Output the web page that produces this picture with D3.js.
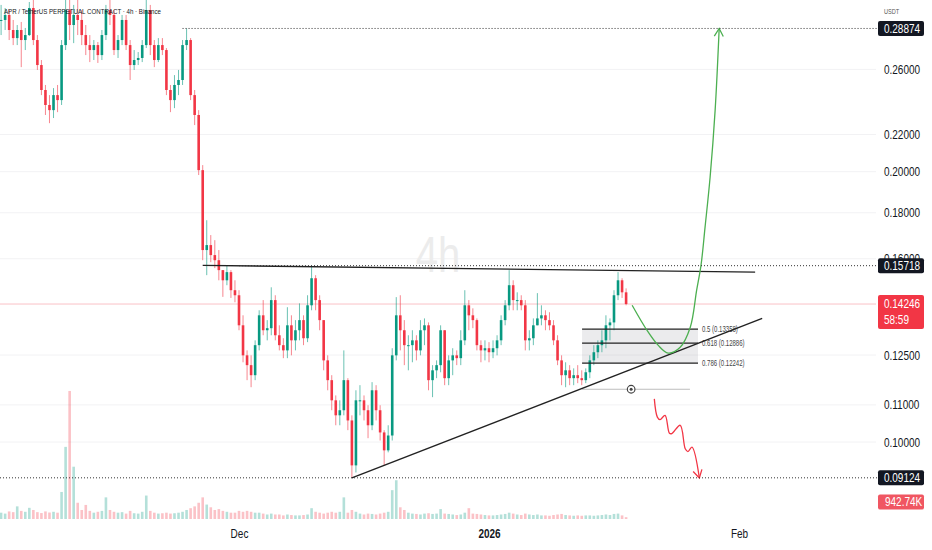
<!DOCTYPE html>
<html>
<head>
<meta charset="utf-8">
<script src="https://cdn.jsdelivr.net/npm/d3@7"></script>
<style>
body { margin: 0; background: #fff; }
svg { display: block; font-family: "Liberation Sans", Arial, sans-serif; }
</style>
</head>
<body>
<svg id="chart" width="932" height="550"></svg>
<script>
// 12h candles; each open is the previous close
let firstTime = Date.UTC(2025, 10, 1, 12);
let stepMs = 12 * 3600 * 1000;
let firstOpen = 0.2951;

let highs = [
    .3067, .3043, .3027, .2951, .2913, .2936, .2891, .3090, .3106, .2839,
    .2663, .2498, .2434, .2478, .2498, .2803, .3106, .3106, .3067, .3106,
    .3027, .2913, .2839, .2803, .2789, .2876, .3067, .3106, .3027, .2839,
    .2989, .2989, .2803, .2732, .2718, .2803, .3106, .3067, .2803, .2817,
    .2817, .2746, .2498, .2562, .2596, .2803, .28874, .2817, .2466, .2342,
    .2034, .1766, .1700, .1678, .1636, .1554, .1574, .1554, .1514, .1476,
    .1384, .1265, .1249, .1298, .1402, .1439, .1367, .1487, .1457, .1349,
    .1305, .1413, .1384, .1367, .1427, .1384, .1457, .1572, .1534, .1457,
    .1367, .1249, .1187, .1127, .1113, .1265, .1178, .1071, .1142, .1157,
    .1127, .1099, .1166, .1157, .1099, .1031, .1044, .1272, .1450, .1457,
    .1367, .1315, .1332, .1315, .1367, .1373, .1359, .1218, .1233, .1349,
    .1332, .1249, .1272, .1265, .1332, .1476, .1439, .1409, .1373, .1298,
    .1298, .1292, .1298, .1315, .1384, .1439, .1554, .1514, .1468, .1457,
    .1439, .1332, .1373, .1465, .1420, .1402, .1395, .1367, .1315, .1249,
    .1227, .1218, .1208, .1218, .1202, .1208, .1249, .1282, .1298, .1332,
    .1384, .1373, .1476, .1546, .1522, .1483
];
let lows = [
    .2839, .2876, .2803, .2767, .2767, .2615, .2732, .2832, .2767, .2596,
    .2434, .2313, .2265, .2295, .2330, .2373, .2732, .2803, .2781, .2839,
    .2767, .2697, .2649, .2663, .2643, .2663, .2803, .2913, .2697, .2677,
    .2767, .2732, .2530, .2596, .2629, .2649, .2746, .2697, .2615, .2649,
    .2697, .2434, .2330, .2354, .2434, .2498, .2732, .2403, .2254, .1983,
    .1594, .1534, .1586, .1562, .1514, .1451, .1495, .1447, .1431, .1332,
    .1227, .1172, .1151, .1172, .1265, .1315, .1298, .1315, .1298, .1265,
    .1240, .1240, .1249, .1265, .1298, .1282, .1292, .1402, .1402, .1332,
    .1202, .1142, .1085, .1044, .1044, .1071, .1031, .09124, .0925, .1071,
    .1057, .1010, .1031, .1057, .1004, .0942, .0974, .1004, .1233, .1265,
    .1218, .1202, .1227, .1233, .1249, .1282, .1142, .1122, .1178, .1196,
    .1157, .1157, .1187, .1218, .1218, .1282, .1332, .1339, .1265, .1227,
    .1233, .1227, .1240, .1249, .1282, .1349, .1402, .1402, .1402, .1402,
    .1265, .1265, .1282, .1349, .1349, .1332, .1332, .1282, .1218, .1157,
    .1151, .1157, .1157, .1163, .1157, .1163, .1178, .1218, .1240, .1259,
    .1272, .1298, .1332, .1439, .1447, .1420
];
let closes = [
    .2951, .2989, .2876, .2817, .2876, .2803, .2839, .3043, .2803, .2629,
    .2466, .2373, .2342, .2434, .2403, .2767, .3027, .2913, .2989, .2951,
    .2839, .2767, .2732, .2767, .2697, .2839, .3027, .2989, .2732, .2803,
    .2951, .2767, .2629, .2663, .2677, .2767, .3027, .2767, .2663, .2767,
    .2732, .2466, .2403, .2498, .2530, .2767, .2803, .2434, .2313, .2008,
    .1636, .1657, .1615, .1594, .1554, .1514, .1546, .1476, .1457, .1349,
    .1249, .1218, .1187, .1282, .1384, .1332, .1339, .1439, .1315, .1282,
    .1265, .1349, .1298, .1332, .1367, .1305, .1420, .1522, .1439, .1367,
    .1233, .1172, .1113, .1071, .1085, .1172, .1057, .0942, .1113, .1113,
    .1085, .1044, .1142, .1085, .1025, .0979, .1017, .1249, .1384, .1332,
    .1282, .1282, .1298, .1265, .1332, .1349, .1172, .1202, .1218, .1332,
    .1178, .1233, .1249, .1240, .1298, .1420, .1384, .1367, .1282, .1265,
    .1272, .1259, .1272, .1298, .1367, .1420, .1495, .1439, .1439, .1420,
    .1298, .1305, .1349, .1373, .1384, .1367, .1349, .1298, .1233, .1187,
    .1202, .1178, .1187, .1178, .1172, .1196, .1233, .1259, .1282, .1298,
    .1349, .1359, .1457, .1514, .1468, .14246
];
// volume in thousands
let volumes = [
    350, 300, 420, 380, 700, 450, 400, 620, 500, 380,
    330, 420, 360, 400, 350, 1500, 4000, 7100, 2900, 900,
    500, 780, 450, 350, 400, 450, 1200, 500, 400, 350,
    380, 300, 450, 320, 300, 400, 1300, 450, 350, 300,
    320, 350, 300, 320, 350, 400, 500, 600, 700, 900,
    1200, 800, 650, 500, 550, 450, 400, 350, 350, 450,
    400, 450, 400, 350, 350, 300, 250, 300, 250, 250,
    200, 250, 220, 200, 200, 220, 250, 600, 400, 350,
    300, 350, 400, 350, 400, 1200, 350, 500, 400, 300,
    250, 300, 280, 250, 300, 350, 400, 1600, 2150, 650,
    500, 350, 300, 280, 250, 300, 320, 280, 300, 550,
    300, 280, 250, 220, 250, 350, 600, 300, 280, 250,
    220, 200, 200, 220, 250, 280, 350, 300, 250, 220,
    300, 250, 220, 250, 200, 200, 180, 220, 250, 280,
    220, 200, 180, 200, 180, 200, 200, 180, 200, 220,
    250, 220, 280, 300, 200, 100
];

let priceTicks = [0.26, 0.22, 0.20, 0.18, 0.16, 0.125, 0.11, 0.10];
let timeTicks = [Date.UTC(2025, 11, 1), Date.UTC(2026, 0, 1), Date.UTC(2026, 1, 1)];
let timeTickLabels = ["Dec", "2026", "Feb"];

let topLevel = 0.28874;
let resistLevel = 0.15718;
let lowLevel = 0.09124;
let lastPrice = 0.14246;
let lastVolume = 942.74;
let countdown = "58:59";

let resistanceLine = [["2025-11-26T12:00Z", 0.1573], ["2026-02-03T00:00Z", 0.1546]];
let supportLine = [["2025-12-15T00:00Z", 0.09124], ["2026-02-03T21:00Z", 0.1373]];

let fibRatios = ["0.5", "0.618", "0.786"];
let fibPrices = [0.13358, 0.12886, 0.12242];
let fibSpan = ["2026-01-12T13:00Z", "2026-01-26T22:00Z"];

let alertPrice = 0.1145;
let alertSpan = ["2026-01-12T13:00Z", "2026-01-25T22:00Z"];
let alertMark = "2026-01-18T15:00Z";

let greenPath = [
    ["2026-01-18T18:00Z", 0.1420],
    ["2026-01-20T14:00Z", 0.1332],
    ["2026-01-21T23:00Z", 0.1282],
    ["2026-01-23T05:00Z", 0.1256],
    ["2026-01-24T17:00Z", 0.1275],
    ["2026-01-25T23:00Z", 0.1342],
    ["2026-01-26T18:00Z", 0.1476],
    ["2026-01-27T07:00Z", 0.1574],
    ["2026-01-27T19:00Z", 0.1735],
    ["2026-01-28T10:00Z", 0.1972],
    ["2026-01-29T01:00Z", 0.2342],
    ["2026-01-29T13:00Z", 0.2887]
];
let redPath = [
    ["2026-01-21T12:00Z", 0.1117],
    ["2026-01-21T21:00Z", 0.1066],
    ["2026-01-22T05:00Z", 0.1059],
    ["2026-01-22T20:00Z", 0.1071],
    ["2026-01-23T09:00Z", 0.1023],
    ["2026-01-23T16:00Z", 0.1022],
    ["2026-01-24T17:00Z", 0.1044],
    ["2026-01-25T08:00Z", 0.0983],
    ["2026-01-25T16:00Z", 0.0976],
    ["2026-01-26T04:00Z", 0.0987],
    ["2026-01-27T02:00Z", 0.0912]
];

let title = "APR / TetherUS PERPETUAL CONTRACT · 4h · Binance";

let up = "#089981";
let down = "#F23645";
let ink = "#131722";
let plotRight = 876;
let plotBottom = 520;

let svg = d3.select("#chart");

let x = d3.scaleUtc()
    .domain([Date.UTC(2025, 11, 1), Date.UTC(2026, 1, 1)])
    .range([239, 739]);
let y = d3.scaleLog()
    .domain([0.0821, 0.3106])
    .range([519, 0]);
let vol = d3.scaleLinear()
    .domain([0, lastVolume])
    .range([519, 502]);

let pt = d => [x(new Date(d[0])), y(d[1])];

let candles = closes.map((c, i) => ({
    time: new Date(firstTime + i * stepMs),
    open: i === 0 ? firstOpen : closes[i - 1],
    high: highs[i],
    low: lows[i],
    close: c,
    volume: volumes[i]
}));

svg.append("defs").append("clipPath").attr("id", "plot")
    .append("rect").attr("width", plotRight).attr("height", plotBottom);

let plot = svg.append("g").attr("clip-path", "url(#plot)");

// grid
plot.selectAll(".grid").data(priceTicks).enter().append("line")
    .attr("x1", 0).attr("x2", plotRight)
    .attr("y1", d => y(d)).attr("y2", d => y(d))
    .attr("stroke", "#f2f2f4");

// watermark
plot.append("text")
    .attr("transform", "translate(438,272) scale(0.8,1)")
    .attr("text-anchor", "middle")
    .attr("font-size", 50)
    .attr("fill", "#ececec")
    .text("4h");

// volume
let barW = 2.6;
plot.selectAll(".vol").data(candles).enter().append("rect")
    .attr("x", d => x(d.time) - barW / 2)
    .attr("width", barW)
    .attr("y", d => vol(d.volume))
    .attr("height", d => vol(0) - vol(d.volume))
    .attr("fill", d => d.close >= d.open ? up : down)
    .attr("opacity", 0.3);

// last price line
plot.append("line")
    .attr("x1", 0).attr("x2", plotRight)
    .attr("y1", y(lastPrice)).attr("y2", y(lastPrice))
    .attr("stroke", down).attr("stroke-opacity", 0.3);

// fib box
let fx0 = x(new Date(fibSpan[0])), fx1 = x(new Date(fibSpan[1]));
plot.append("rect")
    .attr("x", fx0).attr("width", fx1 - fx0)
    .attr("y", y(fibPrices[0]))
    .attr("height", y(fibPrices[2]) - y(fibPrices[0]))
    .attr("fill", "#787b86").attr("fill-opacity", 0.15);

// candles
plot.append("g").selectAll("line").data(candles).enter().append("line")
    .attr("x1", d => x(d.time)).attr("x2", d => x(d.time))
    .attr("y1", d => y(d.high)).attr("y2", d => y(d.low))
    .attr("stroke", d => d.close >= d.open ? up : down)
    .attr("stroke-opacity", 0.6);
plot.append("g").selectAll("rect").data(candles).enter().append("rect")
    .attr("x", d => x(d.time) - barW / 2)
    .attr("width", barW)
    .attr("y", d => y(Math.max(d.open, d.close)))
    .attr("height", d => Math.max(1, Math.abs(y(d.open) - y(d.close))))
    .attr("fill", d => d.close >= d.open ? up : down);

// fib levels
plot.selectAll(".fib").data(fibPrices).enter().append("line")
    .attr("x1", fx0).attr("x2", fx1)
    .attr("y1", d => y(d)).attr("y2", d => y(d))
    .attr("stroke", "#222").attr("stroke-width", 1.1);
plot.selectAll(".fibText").data(fibPrices).enter().append("text")
    .attr("transform", d => `translate(${fx1 + 4},${y(d) + 2.8}) scale(0.72,1)`)
    .attr("font-size", 8.4)
    .attr("fill", "#444")
    .text((d, i) => `${fibRatios[i]} (${d.toFixed(5)})`);

// alert line with marker
plot.append("line")
    .attr("x1", x(new Date(alertSpan[0]))).attr("x2", x(new Date(alertSpan[1])))
    .attr("y1", y(alertPrice)).attr("y2", y(alertPrice))
    .attr("stroke", "#bdbdbd");
plot.append("circle")
    .attr("cx", x(new Date(alertMark))).attr("cy", y(alertPrice)).attr("r", 3.8)
    .attr("fill", "#fff").attr("stroke", "#444").attr("stroke-width", 1.2);
plot.append("circle")
    .attr("cx", x(new Date(alertMark))).attr("cy", y(alertPrice)).attr("r", 1.5)
    .attr("fill", "#444");

// horizontal rays
let rays = [
    { price: topLevel, from: x(new Date("2025-11-24T00:00Z")) },
    { price: resistLevel, from: x(new Date("2025-12-01T00:00Z")) },
    { price: lowLevel, from: 0 }
];
svg.selectAll(".ray").data(rays).enter().append("line")
    .attr("x1", d => d.from).attr("x2", 878)
    .attr("y1", d => y(d.price)).attr("y2", d => y(d.price))
    .attr("stroke", "#333").attr("stroke-width", 1)
    .attr("stroke-dasharray", "1,2");

// trend lines
[resistanceLine, supportLine].forEach(seg => {
    let a = pt(seg[0]), b = pt(seg[1]);
    plot.append("line")
        .attr("x1", a[0]).attr("y1", a[1]).attr("x2", b[0]).attr("y2", b[1])
        .attr("stroke", "#222").attr("stroke-width", 1.4);
});

// projected paths
function arrowPath(points, color, width) {
    let pts = points.map(pt);
    plot.append("path")
        .attr("d", d3.line().curve(d3.curveCatmullRom.alpha(0.5))(pts))
        .attr("fill", "none").attr("stroke", color).attr("stroke-width", width);
    let tip = pts[pts.length - 1], prev = pts[pts.length - 2];
    let ang = Math.atan2(tip[1] - prev[1], tip[0] - prev[0]);
    let len = 9, spread = Math.PI / 6;
    let arm = s => [tip[0] - len * Math.cos(ang + s), tip[1] - len * Math.sin(ang + s)];
    plot.append("path")
        .attr("d", d3.line()([arm(spread), tip, arm(-spread)]))
        .attr("fill", "none").attr("stroke", color).attr("stroke-width", width);
}
arrowPath(greenPath, "#4caf50", 1.3);
arrowPath(redPath, "#f23645", 1.3);

// title
svg.append("text")
    .attr("x", 4).attr("y", 14)
    .attr("font-size", 8)
    .attr("fill", ink)
    .attr("textLength", 157)
    .attr("lengthAdjust", "spacingAndGlyphs")
    .text(title);

// price axis
let yAxis = svg.append("g")
    .attr("transform", `translate(${plotRight},0)`)
    .call(d3.axisRight(y).tickValues(priceTicks).tickFormat(d3.format(".5f")).tickSize(0).tickPadding(8));
yAxis.select(".domain").remove();
yAxis.selectAll("text")
    .attr("x", 10)
    .attr("transform", "scale(0.8,1)")
    .attr("font-size", 12.5)
    .attr("font-family", "Liberation Sans, Arial, sans-serif")
    .attr("fill", ink);

svg.append("text")
    .attr("transform", "translate(884,14) scale(0.8,1)")
    .attr("font-size", 7)
    .attr("fill", "#555")
    .text("USDT");

// price labels
function priceBox(value, label, color, second) {
    let cy = y(value);
    let h = second ? 34 : 15;
    let top = second ? cy - 9 : cy - h / 2;
    svg.append("rect")
        .attr("x", 878).attr("y", top).attr("width", 46).attr("height", h)
        .attr("rx", 2).attr("fill", color);
    svg.append("text")
        .attr("transform", `translate(884,${cy + 4.3}) scale(0.8,1)`)
        .attr("font-size", 12.5).attr("fill", "#fff")
        .text(label);
    if (second) {
        svg.append("text")
            .attr("transform", `translate(884,${cy + 20.3}) scale(0.8,1)`)
            .attr("font-size", 12.5).attr("fill", "#fff")
            .text(second);
    }
}
priceBox(topLevel, d3.format(".5f")(topLevel), ink);
priceBox(resistLevel, d3.format(".5f")(resistLevel), ink);
priceBox(lastPrice, d3.format(".5f")(lastPrice), down, countdown);
priceBox(lowLevel, d3.format(".5f")(lowLevel), ink);

// volume label
let vy = vol(lastVolume);
svg.append("rect")
    .attr("x", 878).attr("y", vy - 7.5).attr("width", 46).attr("height", 15)
    .attr("rx", 2).attr("fill", "#f05662");
svg.append("text")
    .attr("transform", `translate(885,${vy + 4.3}) scale(0.8,1)`)
    .attr("font-size", 12.5).attr("fill", "#fff")
    .text(lastVolume.toFixed(2) + "K");

// time axis
let xAxis = svg.append("g")
    .attr("transform", `translate(0,${plotBottom})`)
    .call(d3.axisBottom(x).tickValues(timeTicks.map(t => new Date(t)))
        .tickFormat((d, i) => timeTickLabels[i]).tickSize(0).tickPadding(9.6));
xAxis.select(".domain").remove();
xAxis.selectAll("text")
    .attr("transform", "scale(0.8,1)")
    .attr("x", 0)
    .attr("font-size", 12.5)
    .attr("font-family", "Liberation Sans, Arial, sans-serif")
    .attr("fill", ink)
    .attr("font-weight", (d, i) => i === 1 ? "bold" : "normal");
</script>
</body>
</html>
